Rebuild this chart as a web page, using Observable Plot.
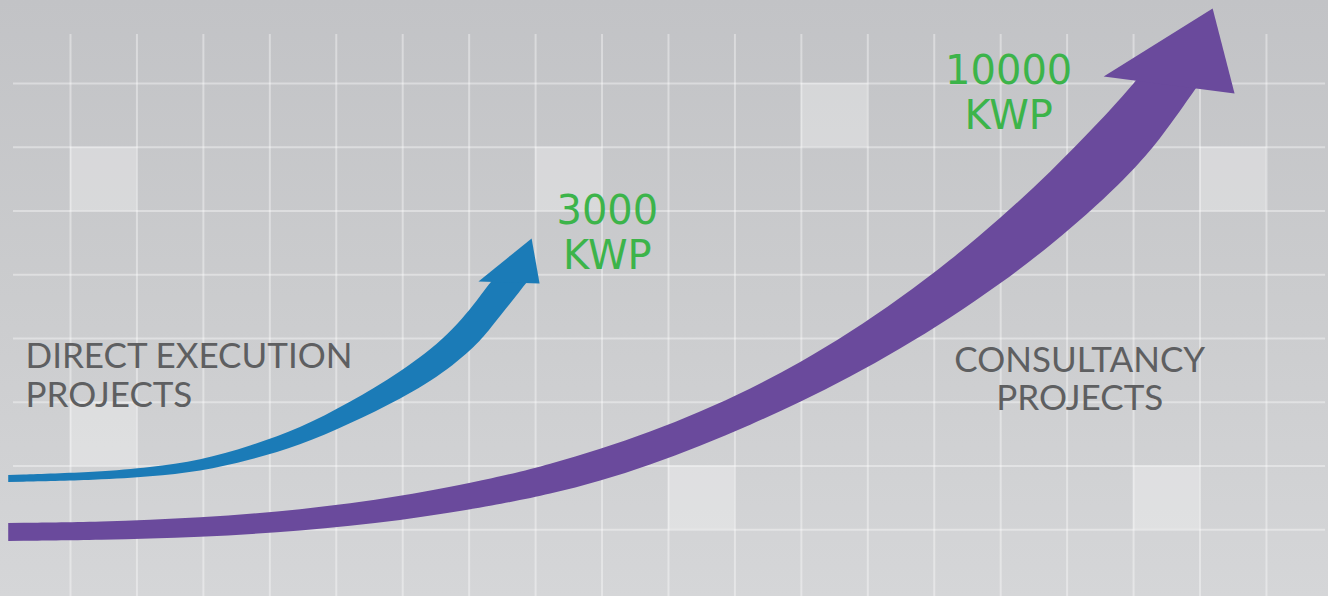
<!DOCTYPE html>
<html>
<head>
<meta charset="utf-8">
<script src="https://cdn.jsdelivr.net/npm/d3@7"></script>
<script src="https://cdn.jsdelivr.net/npm/@observablehq/plot@0.6"></script>
<style>
  html, body { margin: 0; padding: 0; }
  body { width: 1328px; height: 596px; overflow: hidden;
         background: linear-gradient(to bottom, #c2c3c6 0%, #cbccce 50%, #d5d6d8 100%); }
  #chart svg { display: block; background: transparent; }
</style>
</head>
<body>
<div id="chart"></div>
<script>
// ---- grid (in grid units) ----
const gridColumns = [1, 2, 3, 4, 5, 6, 7, 8, 9, 10, 11, 12, 13, 14, 15, 16, 17, 18, 19];
const gridRows = [1, 2, 3, 4, 5, 6, 7, 8];

// highlighted cells: lower-left corner (column, row)
const cellCol = [1, 1, 8, 12, 10, 18, 17];
const cellRow = [6, 2, 6, 7, 1, 6, 1];

// ---- direct execution projects (blue arrow shaft: upper / lower edge) ----
const directX     = [0.07, 1.45, 2.20, 2.96, 3.71, 4.46, 5.21, 5.97, 6.72, 7.22, 7.35, 7.62, 7.89];
const directUpper = [1.851, 1.898, 1.969, 2.078, 2.306, 2.580, 2.988, 3.459, 4.047, 4.722, 4.910, 5.192, 5.302];
const directLower = [1.741, 1.773, 1.827, 1.906, 2.086, 2.314, 2.659, 3.035, 3.514, 4.0, 4.188, 4.533, 4.894];
const directHeadX = [7.14, 7.94, 8.06];
const directHeadY = [4.894, 5.569, 4.863];

// ---- consultancy projects (purple arrow shaft: upper / lower edge) ----
const consultX     = [0.07, 1.45, 2.96, 4.46, 5.97, 7.47, 8.23, 8.98, 9.73, 10.48, 11.24, 11.99, 12.74, 13.49, 14.25, 15.00, 15.75, 16.50, 17.06, 17.41, 17.99];
const consultUpper = [1.098, 1.114, 1.176, 1.302, 1.506, 1.820, 2.024, 2.259, 2.525, 2.839, 3.200, 3.616, 4.086, 4.620, 5.216, 5.875, 6.596, 7.396, 8.047, 8.518, 8.675];
const consultLower = [0.816, 0.831, 0.871, 0.973, 1.129, 1.388, 1.553, 1.757, 2.008, 2.306, 2.635, 2.996, 3.388, 3.827, 4.314, 4.847, 5.443, 6.118, 6.698, 7.122, 7.984];
const consultHeadX = [16.55, 18.19, 18.52];
const consultHeadY = [8.110, 9.176, 7.843];

// ---- labels ----
const categoryLabels = ["DIRECT EXECUTION\nPROJECTS", "CONSULTANCY\nPROJECTS"];
const valueLabels = ["3000\nKWP", "10000\nKWP"];

const cells = cellCol.map((c, i) => ({x1: c, x2: c + 1, y1: cellRow[i], y2: cellRow[i] + 1}));
const directShaft = directX.map((x, i) => ({x, y1: directLower[i], y2: directUpper[i]}));
const consultShaft = consultX.map((x, i) => ({x, y1: consultLower[i], y2: consultUpper[i]}));
const directHead = directHeadX.map((x, i) => ({x, y: directHeadY[i]}));
const consultHead = consultHeadX.map((x, i) => ({x, y: consultHeadY[i]}));

const BLUE = "#1b7bb7", PURPLE = "#6a4a9c", GREEN = "#3cb44a", GREY = "#5e5f61";
const FONT = "Lato, 'Open Sans', sans-serif";
const NUMFONT = "'DejaVu Sans', Lato, sans-serif";

const chart = Plot.plot({
  width: 1328,
  height: 596,
  margin: 0,
  style: {background: "transparent", overflow: "visible"},
  x: {domain: [0, 20], range: [3.56, 1332.4], axis: null},
  y: {domain: [0, 8], range: [593, 83], axis: null},
  marks: [
    Plot.rect(cells, {x1: "x1", x2: "x2", y1: "y1", y2: "y2", fill: "#ffffff", fillOpacity: 0.3}),
    Plot.ruleX(gridColumns, {y1: -0.1, y2: 8.77, stroke: "#ffffff", strokeOpacity: 0.38, strokeWidth: 2}),
    Plot.ruleY(gridRows, {x1: 0.142, x2: 19.89, stroke: "#ffffff", strokeOpacity: 0.38, strokeWidth: 2}),
    // blue arrow
    Plot.areaY(directShaft, {x: "x", y1: "y1", y2: "y2", fill: BLUE, curve: "basis"}),
    Plot.line(directHead, {x: "x", y: "y", fill: BLUE, stroke: "none"}),
    // purple arrow
    Plot.areaY(consultShaft, {x: "x", y1: "y1", y2: "y2", fill: PURPLE, curve: "basis"}),
    Plot.line(consultHead, {x: "x", y: "y", fill: PURPLE, stroke: "none"}),
    // category labels
    Plot.text([categoryLabels[0]], {x: 0.323, y: 2.918, text: d => d, textAnchor: "start", lineAnchor: "bottom",
      fontSize: 35, lineHeight: 1.114, fill: GREY, fontFamily: FONT, fontWeight: 400}),
    Plot.text([categoryLabels[1]], {x: 16.19, y: 2.871, text: d => d, textAnchor: "middle", lineAnchor: "bottom",
      fontSize: 35, lineHeight: 1.086, fill: GREY, fontFamily: FONT, fontWeight: 400}),
    // value labels
    Plot.text([valueLabels[0]], {x: 9.08, y: 5.098, text: d => d, textAnchor: "middle", lineAnchor: "bottom",
      fontSize: 40, lineHeight: 1.125, fill: GREEN, fontFamily: NUMFONT, fontWeight: 400}),
    Plot.text([valueLabels[1]], {x: 15.12, y: 7.294, text: d => d, textAnchor: "middle", lineAnchor: "bottom",
      fontSize: 40, lineHeight: 1.125, fill: GREEN, fontFamily: NUMFONT, fontWeight: 400})
  ]
});
document.getElementById("chart").appendChild(chart);
</script>
</body>
</html>
